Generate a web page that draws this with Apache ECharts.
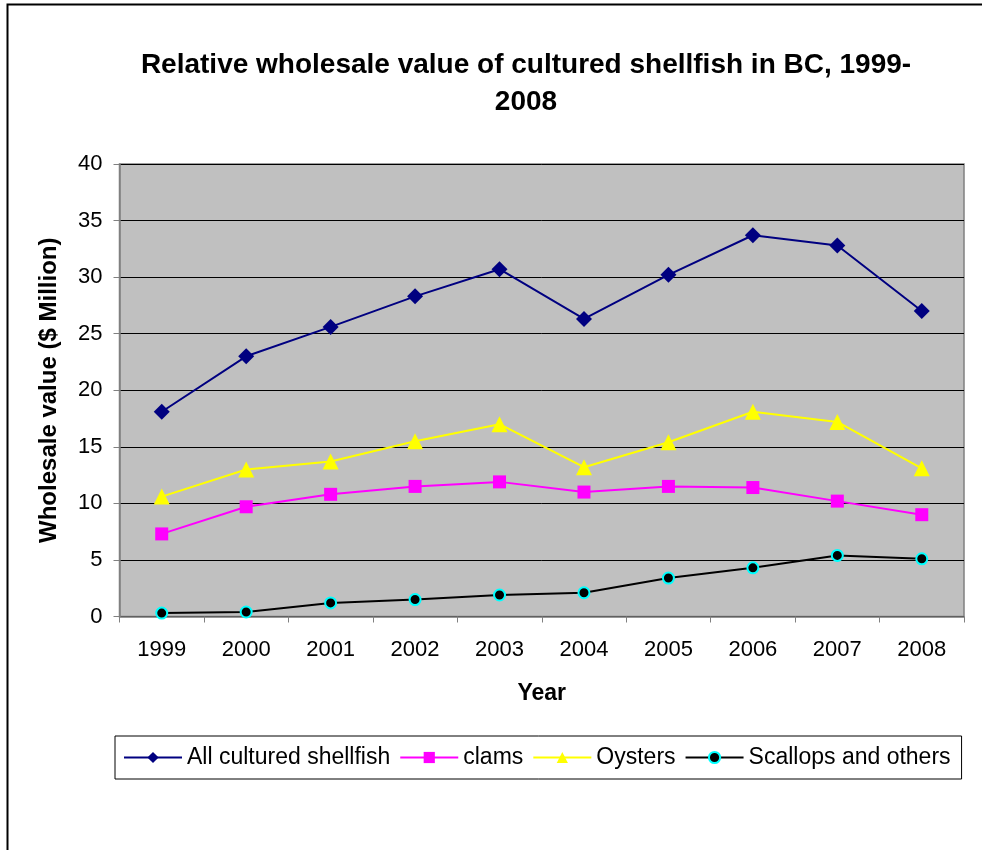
<!DOCTYPE html>
<html>
<head>
<meta charset="utf-8">
<title>Relative wholesale value of cultured shellfish in BC</title>
<script src="https://cdn.jsdelivr.net/npm/echarts@6/dist/echarts.min.js"></script>
<style>
  html, body { margin: 0; padding: 0; background: #ffffff; }
  #chart { width: 982px; height: 850px; }
</style>
</head>
<body>
<div id="chart"></div>
<script>
// Years on the category axis
const years = ['1999', '2000', '2001', '2002', '2003', '2004', '2005', '2006', '2007', '2008'];

// Wholesale value, $ million
const allShellfish = [18.1, 23.0, 25.6, 28.3, 30.7, 26.3, 30.2, 33.7, 32.8, 27.0];
const clams        = [7.3, 9.7, 10.8, 11.5, 11.9, 11.0, 11.5, 11.4, 10.2, 9.0];
const oysters      = [10.6, 13.0, 13.7, 15.5, 17.0, 13.2, 15.4, 18.1, 17.2, 13.1];
const scallops     = [0.3, 0.4, 1.2, 1.5, 1.9, 2.1, 3.4, 4.3, 5.4, 5.1];

const FONT = '"Liberation Sans", Arial, sans-serif';

const chart = echarts.init(document.getElementById('chart'), null, { renderer: 'canvas' });

chart.setOption({
  backgroundColor: '#ffffff',
  animation: false,
  textStyle: { fontFamily: FONT, color: '#000000' },
  title: {
    text: 'Relative wholesale value of cultured shellfish in BC, 1999-\n2008',
    left: 521,
    top: 42,
    textAlign: 'center',
    textStyle: {
      fontFamily: FONT,
      fontSize: 28,
      fontWeight: 'bold',
      lineHeight: 37,
      color: '#000000'
    }
  },
  graphic: [
    {
      // frame around the whole chart
      type: 'rect',
      shape: { x: 7.5, y: 4.5, width: 1100, height: 1000 },
      style: { fill: 'none', stroke: '#000000', lineWidth: 2 },
      silent: true,
      z: 100
    }
  ],
  legend: {
    left: 115,
    top: 736,
    padding: [10, 11, 10, 8],
    itemWidth: 58,
    itemHeight: 14,
    itemGap: 9,
    borderColor: '#000000',
    borderWidth: 1,
    backgroundColor: '#ffffff',
    textStyle: { fontFamily: FONT, fontSize: 23, color: '#000000' },
    data: ['All cultured shellfish', 'clams', 'Oysters', 'Scallops and others']
  },
  grid: {
    left: 119.5,
    right: 18,
    top: 164,
    bottom: 233.5,
    show: true,
    backgroundColor: '#c0c0c0',
    borderColor: '#808080',
    borderWidth: 1.5,
    containLabel: false
  },
  xAxis: {
    type: 'category',
    data: years,
    boundaryGap: true,
    name: 'Year',
    nameLocation: 'middle',
    nameGap: 66,
    nameTextStyle: { fontFamily: FONT, fontSize: 23, fontWeight: 'bold', color: '#000000' },
    axisLine: { show: true, lineStyle: { color: '#808080', width: 1.5 } },
    axisTick: { show: true, alignWithLabel: false, length: 6, inside: false, lineStyle: { color: '#808080' } },
    axisLabel: { fontFamily: FONT, fontSize: 22, color: '#000000', margin: 22 },
    splitLine: { show: false }
  },
  yAxis: {
    type: 'value',
    min: 0,
    max: 40,
    interval: 5,
    name: 'Wholesale value ($ Million)',
    nameLocation: 'middle',
    nameGap: 58,
    nameRotate: 90,
    nameTextStyle: { fontFamily: FONT, fontSize: 24, fontWeight: 'bold', color: '#000000' },
    axisLine: { show: true, lineStyle: { color: '#808080', width: 1.5 } },
    axisTick: { show: true, length: 6, inside: false, lineStyle: { color: '#808080' } },
    axisLabel: { fontFamily: FONT, fontSize: 22, color: '#000000', margin: 17 },
    splitLine: { show: true, lineStyle: { color: '#000000', width: 1 } }
  },
  series: [
    {
      name: 'All cultured shellfish',
      type: 'line',
      data: allShellfish,
      symbol: 'diamond',
      symbolSize: 16,
      lineStyle: { color: '#000080', width: 2 },
      itemStyle: { color: '#000080' }
    },
    {
      name: 'clams',
      type: 'line',
      data: clams,
      symbol: 'rect',
      symbolSize: 13,
      lineStyle: { color: '#ff00ff', width: 2 },
      itemStyle: { color: '#ff00ff' }
    },
    {
      name: 'Oysters',
      type: 'line',
      data: oysters,
      symbol: 'triangle',
      symbolSize: 16,
      lineStyle: { color: '#ffff00', width: 2 },
      itemStyle: { color: '#ffff00' }
    },
    {
      name: 'Scallops and others',
      type: 'line',
      data: scallops,
      symbol: 'circle',
      symbolSize: 11,
      lineStyle: { color: '#000000', width: 2 },
      itemStyle: { color: '#000000', borderColor: '#00ffff', borderWidth: 2 }
    }
  ]
});
</script>
</body>
</html>
